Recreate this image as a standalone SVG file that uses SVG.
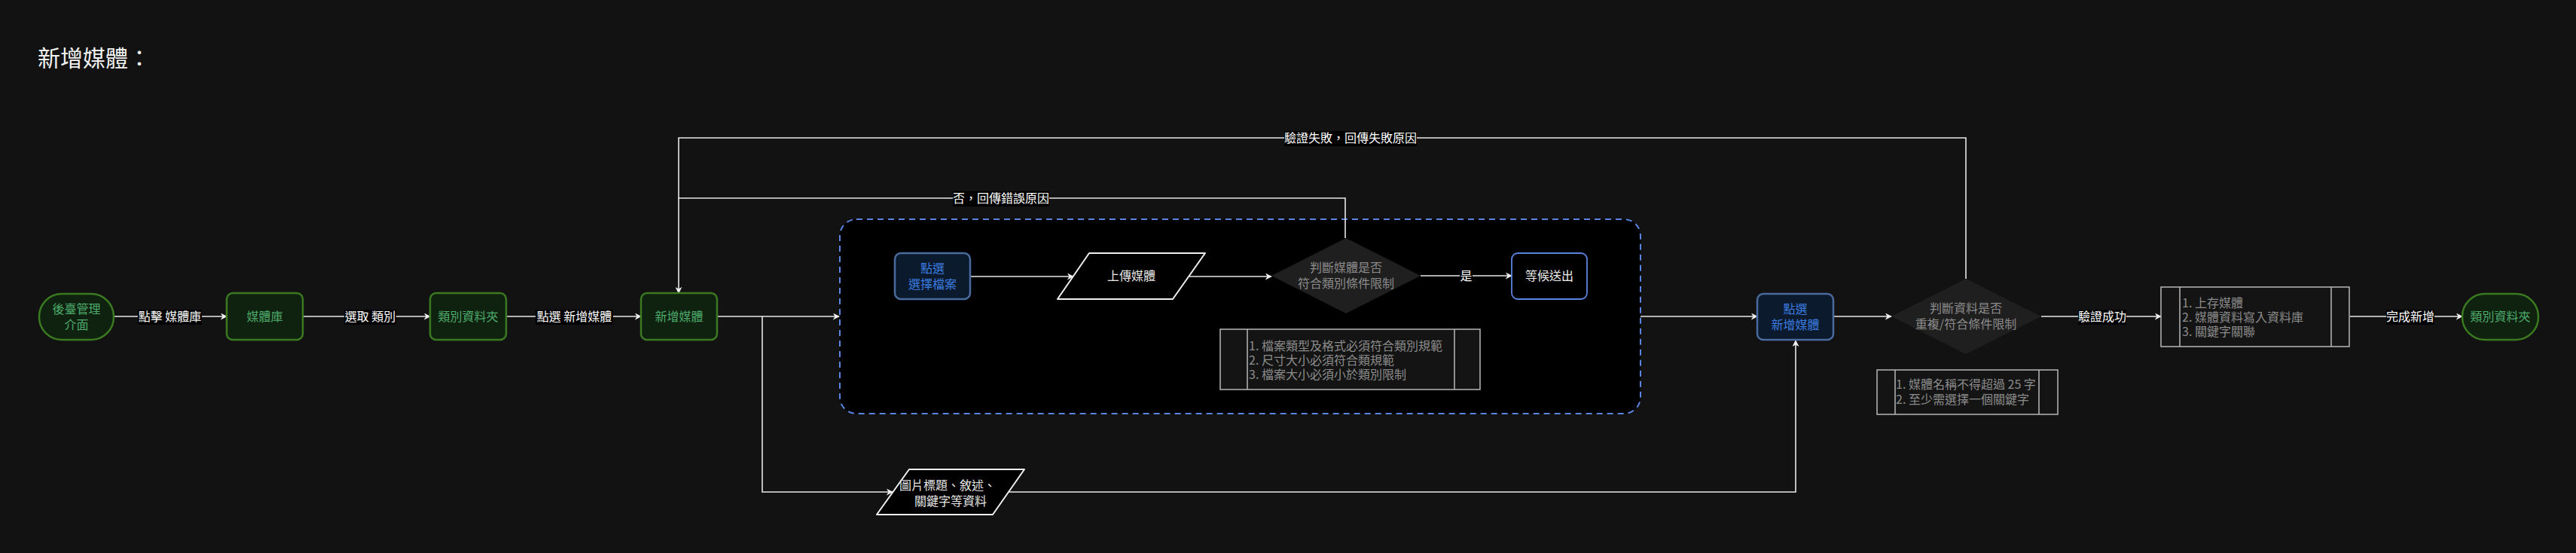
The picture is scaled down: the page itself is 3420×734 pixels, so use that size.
<svg xmlns="http://www.w3.org/2000/svg" width="3420" height="734" viewBox="0 0 3420 734">
<defs>
<marker id="arr" viewBox="0 0 10 10" refX="9" refY="5" markerWidth="9" markerHeight="9" markerUnits="userSpaceOnUse" orient="auto">
<path d="M0,0 L10,5 L0,10 L3,5 z" fill="#f0f0f0"/>
</marker>
<style>
text{font-family:"Noto Sans CJK TC","Noto Sans CJK SC",sans-serif;font-size:16px;}
.green rect{fill:#0f220f;stroke:#3b7a20;stroke-width:2.5;}
.green text{fill:#4dab6c;text-anchor:middle;}
.blue rect{fill:#0c1a2e;stroke:#4a6b9e;stroke-width:2.5;}
.blue text{fill:#3b7de0;text-anchor:middle;}
.dia polygon{fill:#1f1f1f;}
.dia text{fill:#8c8c8c;text-anchor:middle;}
.note rect,.note line{fill:#141414;stroke:#b8b8b8;stroke-width:1.5;}
.note text{fill:#8c8c8c;}
.para path{fill:#000;stroke:#f0f0f0;stroke-width:2;stroke-linejoin:round;}
.para text{fill:#e8e8e8;text-anchor:middle;}
.edges path{fill:none;stroke:#e8e8e8;stroke-width:1.6;}
.lbl rect{fill:#000;}
.lbl text{fill:#ffffff;text-anchor:middle;}
</style>
</defs>
<rect x="0" y="0" width="3420" height="734" fill="#121212"/>
<text x="50" y="88" style="font-size:30px" fill="#f2f2f2">新增媒體：</text>

<g id="container">
<rect x="1115" y="291" width="1063" height="258" rx="22" fill="#000" stroke="#5b84e0" stroke-width="2" stroke-dasharray="8 6"/>
</g>

<g class="edges" id="connectors">
<path d="M151,420 H301" marker-end="url(#arr)"/>
<path d="M402,420 H571" marker-end="url(#arr)"/>
<path d="M672,420 H851" marker-end="url(#arr)"/>
<path d="M952,420 H1114" marker-end="url(#arr)"/>
<path d="M1012,420 V653 H1185" marker-end="url(#arr)"/>
<path d="M1339,653 H2384 V452" marker-end="url(#arr)"/>
<path d="M1288,367 H1425" marker-end="url(#arr)"/>
<path d="M1579,367 H1688" marker-end="url(#arr)"/>
<path d="M1886,366 H2007" marker-end="url(#arr)"/>
<path d="M1786,316 V263 H901 V389" marker-end="url(#arr)"/>
<path d="M2610,370 V183 H901 V263"/>
<path d="M2178,420 H2333" marker-end="url(#arr)"/>
<path d="M2434,420 H2511" marker-end="url(#arr)"/>
<path d="M2710,420 H2869" marker-end="url(#arr)"/>
<path d="M3120,420 H3269" marker-end="url(#arr)"/>
<g class="lbl">
<rect x="183" y="411" width="85" height="20"/><text x="225.5" y="426">點擊 媒體庫</text>
<rect x="457" y="411" width="69" height="20"/><text x="491.5" y="426">選取 類別</text>
<rect x="711" y="411" width="103" height="20"/><text x="762.5" y="426">點選 新增媒體</text>
<rect x="1938" y="357" width="17" height="20"/><text x="1946.5" y="372">是</text>
<rect x="1265" y="254" width="128" height="20"/><text x="1329" y="269">否，回傳錯誤原因</text>
<rect x="1705" y="174" width="176" height="20"/><text x="1793" y="189">驗證失敗，回傳失敗原因</text>
<rect x="2759" y="411" width="64" height="20"/><text x="2791" y="426">驗證成功</text>
<rect x="3168" y="411" width="64" height="20"/><text x="3200" y="426">完成新增</text>
</g>
</g>

<g id="n-start" class="green">
<rect x="52" y="390" width="99" height="61" rx="30"/>
<text x="101.5" y="416">後臺管理</text><text x="101.5" y="437">介面</text>
</g>
<g id="n-lib" class="green">
<rect x="301" y="389" width="101" height="62" rx="8"/>
<text x="351.5" y="426">媒體庫</text>
</g>
<g id="n-folder" class="green">
<rect x="571" y="389" width="101" height="62" rx="8"/>
<text x="621.5" y="426">類別資料夾</text>
</g>
<g id="n-add" class="green">
<rect x="851" y="389" width="101" height="62" rx="8"/>
<text x="901.5" y="426">新增媒體</text>
</g>

<g id="n-select" class="blue">
<rect x="1188" y="336" width="100" height="61" rx="8"/>
<text x="1238" y="362">點選</text><text x="1238" y="383">選擇檔案</text>
</g>
<g id="n-upload" class="para">
<path d="M1446,336 H1600 L1557,397 H1404 Z"/>
<text x="1502" y="372">上傳媒體</text>
</g>
<g id="n-check1" class="dia">
<polygon points="1787,316 1886,366 1787,416 1688,366"/>
<text x="1787" y="361">判斷媒體是否</text><text x="1787" y="382">符合類別條件限制</text>
</g>
<g id="n-wait">
<rect x="2007" y="336" width="100" height="61" rx="8" fill="#000" stroke="#5b84e0" stroke-width="1.8"/>
<text x="2057" y="372" fill="#f0f0f0" text-anchor="middle">等候送出</text>
</g>
<g id="note1" class="note">
<rect x="1620" y="437" width="345" height="80"/>
<line x1="1656" y1="437" x2="1656" y2="517"/><line x1="1931" y1="437" x2="1931" y2="517"/>
<text x="1658" y="465">1. 檔案類型及格式必須符合類別規範</text>
<text x="1658" y="484">2. 尺寸大小必須符合類規範</text>
<text x="1658" y="503">3. 檔案大小必須小於類別限制</text>
</g>

<g id="n-meta" class="para">
<path d="M1207,623 H1360 L1318,683 H1164 Z"/>
<text x="1258" y="650">圖片標題、敘述、</text><text x="1262" y="671">關鍵字等資料</text>
</g>

<g id="n-submit" class="blue">
<rect x="2333" y="390" width="101" height="61" rx="8"/>
<text x="2383.5" y="416">點選</text><text x="2383.5" y="437">新增媒體</text>
</g>
<g id="n-check2" class="dia">
<polygon points="2610,370 2710,420 2610,470 2511,420"/>
<text x="2610" y="415">判斷資料是否</text><text x="2610" y="436">重複/符合條件限制</text>
</g>
<g id="note2" class="note">
<rect x="2492" y="491" width="240" height="59"/>
<line x1="2516" y1="491" x2="2516" y2="550"/><line x1="2707" y1="491" x2="2707" y2="550"/>
<text x="2517" y="516">1. 媒體名稱不得超過 25 字</text>
<text x="2517" y="536">2. 至少需選擇一個關鍵字</text>
</g>
<g id="n-save" class="note">
<rect x="2869" y="381" width="250" height="79"/>
<line x1="2894" y1="381" x2="2894" y2="460"/><line x1="3095" y1="381" x2="3095" y2="460"/>
<text x="2897" y="408">1. 上存媒體</text>
<text x="2897" y="427">2. 媒體資料寫入資料庫</text>
<text x="2897" y="446">3. 關鍵字關聯</text>
</g>
<g id="n-end" class="green">
<rect x="3269" y="390" width="101" height="61" rx="30"/>
<text x="3319.5" y="426">類別資料夾</text>
</g>
</svg>
